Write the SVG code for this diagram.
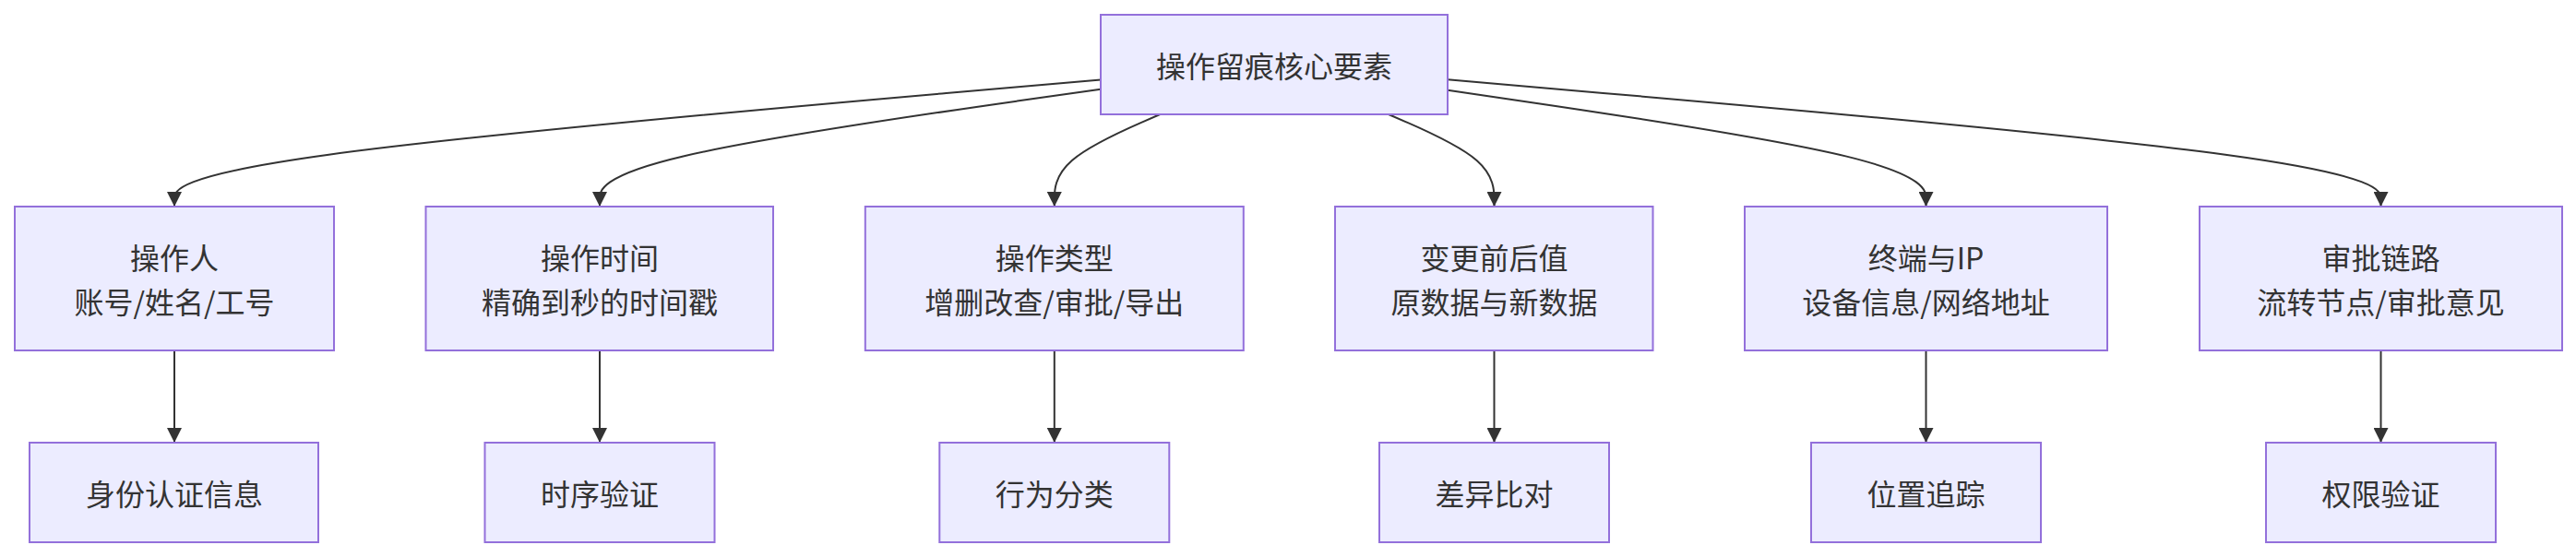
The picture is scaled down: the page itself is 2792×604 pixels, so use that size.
<svg xmlns="http://www.w3.org/2000/svg" width="2792" height="604" viewBox="0 0 2792 604">
<style>
.node rect{fill:#ECECFF;stroke:#9370DB;stroke-width:2}
.node text{fill:#333333;font-family:"Noto Sans CJK SC","Noto Sans",sans-serif;font-size:32px;text-anchor:middle;dominant-baseline:central}
.edges path{fill:none;stroke:#333333;stroke-width:2}
</style>
<defs>
<marker id="arrow" viewBox="0 0 10 10" refX="10" refY="5" markerUnits="userSpaceOnUse" markerWidth="16" markerHeight="16" orient="auto">
<path d="M0,0 L10,5 L0,10 z" fill="#333333"/>
</marker>
</defs>
<rect width="2792" height="604" fill="#ffffff"/>
<g class="edges">
<path marker-end="url(#arrow)" d="M1193,86.4 L1025.67,101 C858.33,115.6 523.67,144.8 356.33,167.73 C189,190.67 189,207.33 189,215.67 L189,224"/>
<path marker-end="url(#arrow)" d="M1193,96.7 L1102.5,109.58 C1012,122.47 831,148.23 740.5,169.45 C650,190.67 650,207.33 650,215.67 L650,224"/>
<path marker-end="url(#arrow)" d="M1257.3,124 L1238.22,132.33 C1219.13,140.67 1180.97,157.33 1161.88,174 C1142.8,190.67 1142.8,207.33 1142.8,215.67 L1142.8,224"/>
<path marker-end="url(#arrow)" d="M1505,124 L1524.12,132.33 C1543.23,140.67 1581.47,157.33 1600.58,174 C1619.5,190.67 1619.5,207.33 1619.5,215.67 L1619.5,224"/>
<path marker-end="url(#arrow)" d="M1569,97.7 L1655.5,110.42 C1742,123.13 1915,148.57 2001.5,169.62 C2087.5,190.67 2087.5,207.33 2087.5,215.67 L2087.5,224"/>
<path marker-end="url(#arrow)" d="M1569,86.3 L1737.58,100.92 C1906.17,115.53 2243.33,144.77 2411.92,167.72 C2580.5,190.67 2580.5,207.33 2580.5,215.67 L2580.5,224"/>
<path marker-end="url(#arrow)" d="M189,380 L189,480"/>
<path marker-end="url(#arrow)" d="M650,380 L650,480"/>
<path marker-end="url(#arrow)" d="M1142.8,380 L1142.8,480"/>
<path marker-end="url(#arrow)" d="M1619.5,380 L1619.5,480"/>
<path marker-end="url(#arrow)" d="M2087.5,380 L2087.5,480"/>
<path marker-end="url(#arrow)" d="M2580.5,380 L2580.5,480"/>
</g>
<g id="root" class="node"><rect x="1193" y="16" width="376" height="108"/><text x="1381" y="70">操作留痕核心要素</text></g>
<g id="n1" class="node"><rect x="16" y="224" width="346" height="156"/><text x="189" y="278">操作人</text><text x="189" y="326">账号/姓名/工号</text></g>
<g id="n2" class="node"><rect x="461.5" y="224" width="376.5" height="156"/><text x="650" y="278">操作时间</text><text x="650" y="326">精确到秒的时间戳</text></g>
<g id="n3" class="node"><rect x="937.8" y="224" width="410" height="156"/><text x="1142.8" y="278">操作类型</text><text x="1142.8" y="326">增删改查/审批/导出</text></g>
<g id="n4" class="node"><rect x="1447" y="224" width="344.5" height="156"/><text x="1619.5" y="278">变更前后值</text><text x="1619.5" y="326">原数据与新数据</text></g>
<g id="n5" class="node"><rect x="1891" y="224" width="393" height="156"/><text x="2087.5" y="278">终端与IP</text><text x="2087.5" y="326">设备信息/网络地址</text></g>
<g id="n6" class="node"><rect x="2384" y="224" width="393" height="156"/><text x="2580.5" y="278">审批链路</text><text x="2580.5" y="326">流转节点/审批意见</text></g>
<g id="c1" class="node"><rect x="32" y="480" width="313" height="108"/><text x="189" y="534">身份认证信息</text></g>
<g id="c2" class="node"><rect x="525.5" y="480" width="249" height="108"/><text x="650" y="534">时序验证</text></g>
<g id="c3" class="node"><rect x="1018.3" y="480" width="249" height="108"/><text x="1142.8" y="534">行为分类</text></g>
<g id="c4" class="node"><rect x="1495" y="480" width="249" height="108"/><text x="1619.5" y="534">差异比对</text></g>
<g id="c5" class="node"><rect x="1963" y="480" width="249" height="108"/><text x="2087.5" y="534">位置追踪</text></g>
<g id="c6" class="node"><rect x="2456" y="480" width="249" height="108"/><text x="2580.5" y="534">权限验证</text></g>
</svg>
